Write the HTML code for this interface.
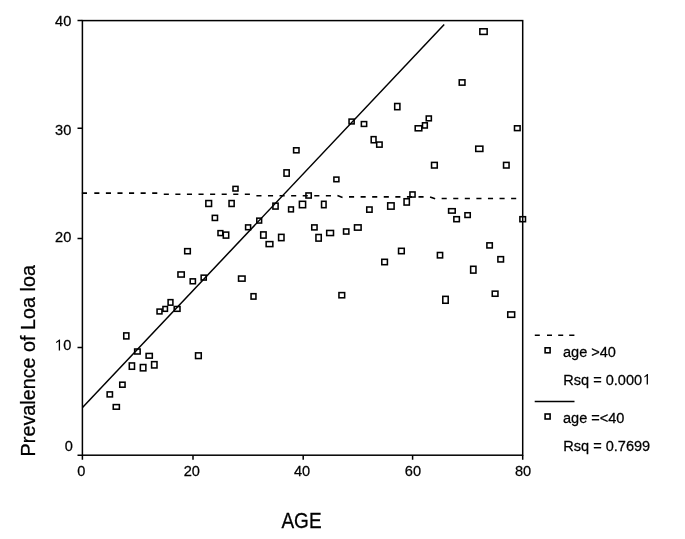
<!DOCTYPE html>
<html><head><meta charset="utf-8"><style>
html,body{margin:0;padding:0;background:#fff;}
body{width:685px;height:539px;overflow:hidden;}
svg{display:block;filter:grayscale(1);}
text{font-family:"Liberation Sans", sans-serif;fill:#000;stroke:#000;stroke-width:0.25px;}
</style></head><body>
<svg width="685" height="539" viewBox="0 0 685 539">
<rect x="0" y="0" width="685" height="539" fill="#fff"/>
<g stroke="#000" stroke-width="1.5" fill="none">
<rect x="82.4" y="20.6" width="440.3" height="434.6"/>
<path d="M77.5 20.6H82.4M77.5 128.2H82.4M77.5 238.5H82.4M77.5 347.6H82.4M77.5 455.2H82.4"/>
<path d="M82.4 455.2V459.8M193 455.2V459.8M303.2 455.2V459.8M412.6 455.2V459.8M522.7 455.2V459.8"/>
</g>
<text transform="translate(71.3,25.6) scale(1.0,1.03)" font-size="14.6" text-anchor="end">40</text><text transform="translate(71.3,134.7) scale(1.0,1.03)" font-size="14.6" text-anchor="end">30</text><text transform="translate(71.3,242.4) scale(1.0,1.03)" font-size="14.6" text-anchor="end">20</text><text transform="translate(71.3,349.8) scale(1.0,1.03)" font-size="14.6" text-anchor="end">0</text><text transform="translate(73.0,450.7) scale(1.0,1.03)" font-size="14.6" text-anchor="end">0</text><text transform="translate(81.4,475.6) scale(1.0,1.03)" font-size="14.6" text-anchor="middle">0</text><text transform="translate(191.8,475.6) scale(1.0,1.03)" font-size="14.6" text-anchor="middle">20</text><text transform="translate(302.0,475.6) scale(1.0,1.03)" font-size="14.6" text-anchor="middle">40</text><text transform="translate(412.9,475.6) scale(1.0,1.03)" font-size="14.6" text-anchor="middle">60</text><text transform="translate(523.0,475.6) scale(1.0,1.03)" font-size="14.6" text-anchor="middle">80</text>
<text transform="translate(301.5,527.8) scale(0.95,1.06)" font-size="20" text-anchor="middle">AGE</text><text transform="translate(35.1,456.4) rotate(-90)" font-size="19.8">Prevalence of Loa loa</text>
<path d="M82.5 407.6L444.2 24.6" stroke="#000" stroke-width="1.5" fill="none"/>
<path d="M81.90 193.10H87.00M94.30 193.10H99.40M105.88 193.10H110.98M117.45 193.10H122.55M129.03 193.10H134.13M140.61 193.10H145.71M152.19 193.10H157.29M163.77 194.30H168.87M175.34 194.30H180.44M186.92 194.30H192.02M198.50 194.30H203.60M210.08 194.30H215.18M221.66 194.30H226.76M233.23 194.30H238.33M244.81 194.30H249.91M256.39 195.80H261.49M267.97 195.80H273.07M279.55 195.80H284.65M291.12 195.80H296.22M302.70 195.80H307.80M314.28 195.80H319.38M325.86 195.80H330.96M337.44 195.45L342.54 197.38M349.01 196.90H354.11M360.59 196.90H365.69M372.17 196.90H377.27M383.75 196.90H388.85M395.33 196.90H400.43M406.90 196.90H412.00M418.48 196.90H423.58M430.06 196.99L435.16 198.81M441.64 198.50H446.74M453.22 198.50H458.32M464.79 198.50H469.89M476.37 198.50H481.47M487.95 198.50H493.05M499.53 198.50H504.63M511.11 198.50H516.21M522.68 198.50H523.00" stroke="#000" stroke-width="1.6" fill="none"/>
<g stroke="#000" stroke-width="1.55" fill="none"><rect x="107.15" y="391.90" width="5.30" height="5.00"/><rect x="113.25" y="404.60" width="6.10" height="4.60"/><rect x="119.75" y="382.20" width="5.30" height="5.00"/><rect x="123.75" y="332.90" width="5.10" height="6.00"/><rect x="129.30" y="362.95" width="5.20" height="6.30"/><rect x="134.65" y="349.00" width="5.50" height="5.00"/><rect x="140.35" y="364.55" width="5.50" height="6.30"/><rect x="146.10" y="353.45" width="6.20" height="4.70"/><rect x="151.60" y="361.65" width="5.40" height="6.30"/><rect x="157.05" y="309.10" width="4.90" height="4.80"/><rect x="162.95" y="306.50" width="4.50" height="4.80"/><rect x="168.10" y="299.65" width="4.80" height="5.50"/><rect x="174.20" y="306.50" width="5.80" height="4.80"/><rect x="177.95" y="271.95" width="6.30" height="5.10"/><rect x="184.70" y="248.65" width="5.60" height="5.10"/><rect x="190.20" y="278.85" width="5.20" height="4.90"/><rect x="195.55" y="352.85" width="5.70" height="5.70"/><rect x="201.15" y="275.15" width="5.10" height="4.90"/><rect x="205.85" y="200.55" width="5.70" height="5.90"/><rect x="212.30" y="215.35" width="5.20" height="5.10"/><rect x="218.00" y="230.65" width="4.80" height="4.90"/><rect x="223.30" y="232.10" width="5.40" height="6.00"/><rect x="229.05" y="200.55" width="5.10" height="5.90"/><rect x="233.00" y="186.40" width="5.00" height="4.60"/><rect x="238.55" y="276.05" width="6.50" height="5.10"/><rect x="245.60" y="224.90" width="5.00" height="4.80"/><rect x="251.05" y="293.70" width="4.90" height="5.40"/><rect x="256.80" y="218.15" width="4.80" height="4.90"/><rect x="260.70" y="231.90" width="5.40" height="6.20"/><rect x="266.15" y="241.60" width="6.70" height="5.00"/><rect x="272.90" y="203.15" width="5.20" height="5.90"/><rect x="278.60" y="234.35" width="5.40" height="6.30"/><rect x="284.00" y="169.85" width="5.20" height="6.30"/><rect x="288.60" y="206.95" width="4.80" height="4.90"/><rect x="293.60" y="147.80" width="5.40" height="5.00"/><rect x="299.40" y="201.30" width="6.20" height="6.40"/><rect x="305.95" y="192.95" width="5.30" height="5.10"/><rect x="311.75" y="224.90" width="5.30" height="5.00"/><rect x="315.95" y="234.50" width="5.30" height="6.60"/><rect x="321.55" y="201.30" width="4.50" height="6.40"/><rect x="326.70" y="230.45" width="6.80" height="5.10"/><rect x="333.90" y="177.10" width="5.00" height="4.60"/><rect x="338.95" y="292.60" width="5.70" height="5.20"/><rect x="343.55" y="228.95" width="5.30" height="5.10"/><rect x="349.05" y="119.10" width="5.10" height="4.80"/><rect x="354.50" y="224.85" width="6.60" height="5.30"/><rect x="361.35" y="121.60" width="5.30" height="4.80"/><rect x="366.75" y="207.00" width="5.30" height="5.20"/><rect x="371.20" y="136.65" width="4.80" height="6.10"/><rect x="376.70" y="142.05" width="5.40" height="5.10"/><rect x="381.80" y="259.30" width="5.60" height="5.40"/><rect x="387.70" y="202.85" width="6.40" height="6.30"/><rect x="394.70" y="103.50" width="5.20" height="6.20"/><rect x="398.55" y="248.30" width="5.70" height="5.40"/><rect x="404.05" y="198.75" width="5.30" height="6.30"/><rect x="409.95" y="191.95" width="5.10" height="5.10"/><rect x="415.20" y="125.80" width="6.60" height="5.00"/><rect x="422.50" y="122.80" width="4.80" height="5.20"/><rect x="426.25" y="116.00" width="5.10" height="4.80"/><rect x="431.55" y="162.40" width="5.70" height="5.60"/><rect x="437.40" y="252.50" width="5.20" height="5.40"/><rect x="442.80" y="296.35" width="5.40" height="6.90"/><rect x="448.60" y="208.70" width="6.60" height="4.40"/><rect x="453.85" y="216.70" width="5.50" height="5.00"/><rect x="459.25" y="79.85" width="5.70" height="5.30"/><rect x="464.95" y="212.75" width="5.30" height="4.70"/><rect x="470.65" y="266.30" width="5.30" height="6.80"/><rect x="475.75" y="146.15" width="7.10" height="5.30"/><rect x="479.85" y="28.80" width="7.30" height="5.60"/><rect x="486.90" y="242.85" width="5.40" height="5.10"/><rect x="492.25" y="291.15" width="5.70" height="5.10"/><rect x="497.90" y="256.65" width="5.60" height="5.30"/><rect x="503.55" y="162.40" width="5.50" height="5.60"/><rect x="507.75" y="311.90" width="6.90" height="5.40"/><rect x="514.50" y="125.80" width="5.60" height="4.80"/><rect x="519.90" y="216.70" width="5.60" height="5.00"/></g>
<path d="M534.8 335.3H539.8M547 335.3H552M558.2 335.3H563.2M569.2 335.3H574.4" stroke="#000" stroke-width="1.5" fill="none"/>
<path d="M534.7 401.5H574.5" stroke="#000" stroke-width="1.5" fill="none"/>
<g stroke="#000" stroke-width="1.6" fill="none">
<rect x="545.1" y="347.8" width="5" height="5"/>
<rect x="545.1" y="414" width="5" height="5"/>
</g>
<text transform="translate(563,356.8) scale(0.99,1.03)" font-size="14.7">age &gt;40</text><text transform="translate(563.3,384.6) scale(0.99,1.03)" font-size="14.7">Rsq = 0.000</text><text transform="translate(563,423.4) scale(0.99,1.03)" font-size="14.7">age =&lt;40</text><text transform="translate(563.3,450.9) scale(0.99,1.03)" font-size="14.7">Rsq = 0.7699</text>
<g fill="#000"><polygon points="58.75,350.40 60.05,350.40 60.05,339.40 59.30,339.40 56.00,341.90 56.00,343.10 58.75,341.40"/><polygon points="646.65,384.60 647.95,384.60 647.95,373.90 647.20,373.90 644.30,376.40 644.30,377.60 646.65,375.90"/></g>
</svg>
</body></html>
